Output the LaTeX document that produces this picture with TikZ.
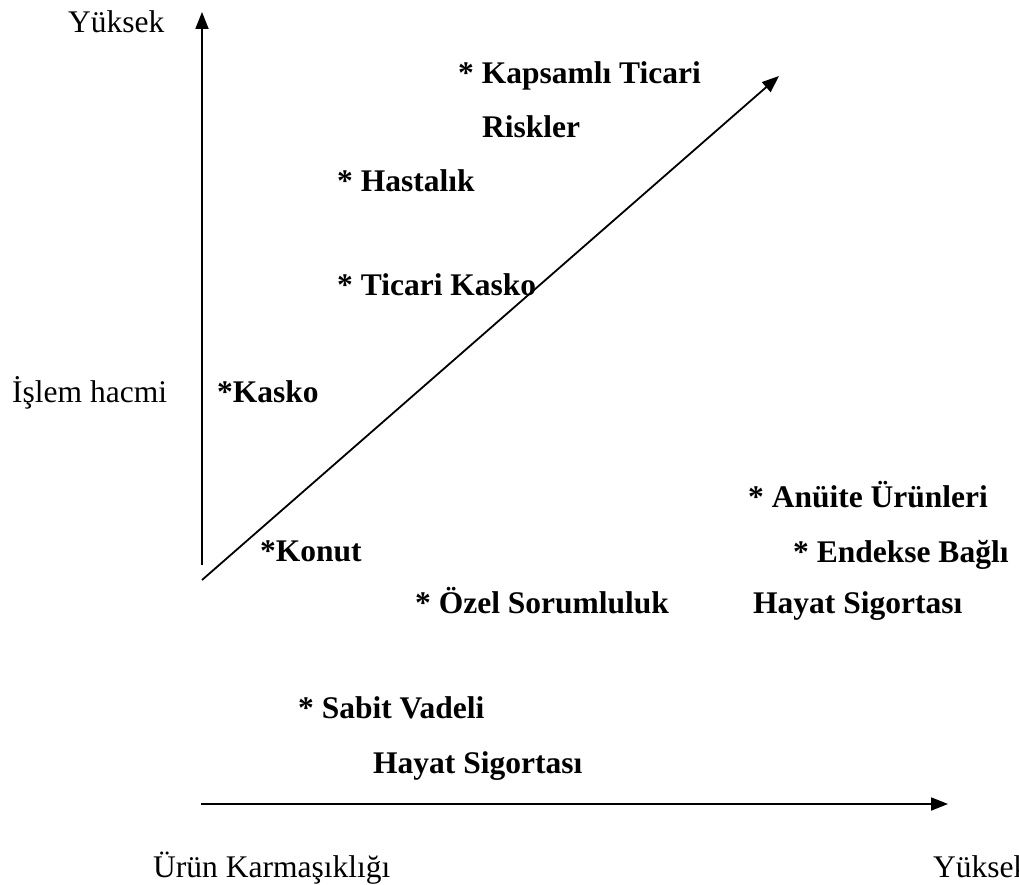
\documentclass[tikz,border=0pt]{standalone}
\usepackage{fontspec}
\setmainfont{Liberation Serif}
\usetikzlibrary{arrows.meta}
\begin{document}
\begin{tikzpicture}[x=1pt,y=-1pt,
  lbl/.style={inner sep=0pt,anchor=base west,font=\fontsize{31.5}{38}\selectfont},
  blbl/.style={lbl,font=\fontsize{31.5}{38}\selectfont\bfseries},
  axis/.style={line width=1.8pt,-{Triangle[length=17pt,width=13pt]}}]
\useasboundingbox (0,0) rectangle (1019,885);
\clip (0,0) rectangle (1019,885);
% axes
\coordinate (vs) at (202,565);
\coordinate (ve) at (202,12);
\coordinate (hs) at (201,804);
\coordinate (he) at (948,804);
\coordinate (ds) at (202,580);
\coordinate (de) at (779,76);
\draw[axis] (vs) -- (ve);
\draw[axis] (hs) -- (he);
\draw[axis] (ds) -- (de);
% axis labels
\node[lbl] (yhigh) at (68,33) {Yüksek};
\node[lbl] (vol) at (12,402) {İşlem hacmi};
\node[lbl] (compl) at (153,877) {Ürün Karmaşıklığı};
\node[lbl] (xhigh) at (933,877) {Yüksek};
% products
\node[blbl] (kap) at (458,84) {* Kapsamlı Ticari};
\node[blbl] (ris) at (482,138) {Riskler};
\node[blbl] (has) at (337,192) {* Hastalık};
\node[blbl] (tk) at (337,295) {* Ticari Kasko};
\node[blbl] (kas) at (217,402) {*Kasko};
\node[blbl] (anu) at (748,507) {* Anüite Ürünleri};
\node[blbl] (kon) at (260,561) {*Konut};
\node[blbl] (end) at (793,562) {* Endekse Bağlı};
\node[blbl] (oz) at (415,613) {* Özel Sorumluluk};
\node[blbl] (hs1) at (753,613) {Hayat Sigortası};
\node[blbl] (sab) at (298,718) {* Sabit Vadeli};
\node[blbl] (hs2) at (373,773) {Hayat Sigortası};
\end{tikzpicture}
\end{document}
